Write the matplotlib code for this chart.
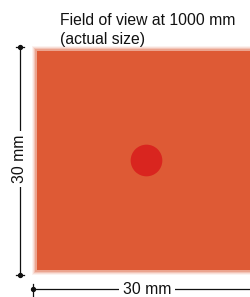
import matplotlib
matplotlib.use("Agg")
import matplotlib.pyplot as plt
from matplotlib.patches import Rectangle, Circle

plt.rcParams['font.family'] = ['Liberation Sans', 'DejaVu Sans']

# data
field_width_mm = 30
field_height_mm = 30
spot_diameter_mm = 4.3
title_lines = ["Field of view at 1000 mm", "(actual size)"]
width_label = "30 mm"
height_label = "30 mm"

W, H = 251, 297
fig = plt.figure(figsize=(W / 100, H / 100), dpi=100)
fig.patch.set_facecolor("white")

def fx(px):
    return px / W

def fy(py):
    return 1 - py / H

# axes covering the square region (pixels)
sq_l, sq_t, sq_size = 36, 50, 221
ax = fig.add_axes([fx(sq_l), fy(sq_t + sq_size), sq_size / W, sq_size / H])
ax.set_xlim(0, field_width_mm)
ax.set_ylim(0, field_height_mm)
ax.axis("off")

orange = "#DE5A35"
# soft edges: layered rectangles
for grow, a in [(0.55, 0.08), (0.42, 0.12), (0.28, 0.2), (0.14, 0.3), (-0.1, 1.0)]:
    ax.add_patch(Rectangle((-grow, -grow), field_width_mm + 2 * grow,
                           field_height_mm + 2 * grow,
                           facecolor=orange, edgecolor="none", alpha=a,
                           clip_on=False, zorder=1))

ax.add_patch(Circle((field_width_mm / 2, field_height_mm / 2), spot_diameter_mm / 2,
                    facecolor="#D9251F", edgecolor="none", zorder=3))

k = "#111111"
lw = 0.9
# vertical dimension line (figure pixels)
vx = 20
vt, vb = 47, 275
fig.add_artist(plt.Line2D([fx(vx), fx(vx)], [fy(vt), fy(vb)], color=k, lw=lw))
for yy in (vt, vb):
    fig.add_artist(plt.Line2D([fx(vx - 4), fx(vx + 4)], [fy(yy), fy(yy)], color=k, lw=lw))
    fig.add_artist(plt.Line2D([fx(vx)], [fy(yy)], marker="o", ms=2.8, color=k))
fig.text(fx(vx), fy(159), height_label, rotation=90, ha="center", va="center",
         fontsize=11.3, color=k,
         bbox=dict(facecolor="white", edgecolor="none", pad=3))

# horizontal dimension line
hy = 289
hl = 33
fig.add_artist(plt.Line2D([fx(hl), fx(W + 5)], [fy(hy), fy(hy)], color=k, lw=lw))
fig.add_artist(plt.Line2D([fx(hl), fx(hl)], [fy(hy - 5), fy(hy + 7)], color=k, lw=lw))
fig.add_artist(plt.Line2D([fx(hl)], [fy(hy)], marker="o", ms=2.8, color=k))
fig.text(fx(147), fy(hy), width_label, ha="center", va="center",
         fontsize=11.3, color=k,
         bbox=dict(facecolor="white", edgecolor="none", pad=2.5))

# title
fig.text(fx(60), fy(25), title_lines[0], ha="left", va="baseline", fontsize=11.3, color=k)
fig.text(fx(60), fy(44), title_lines[1], ha="left", va="baseline", fontsize=11.3, color=k)

fig.savefig("out.png", dpi=100, facecolor="white")
